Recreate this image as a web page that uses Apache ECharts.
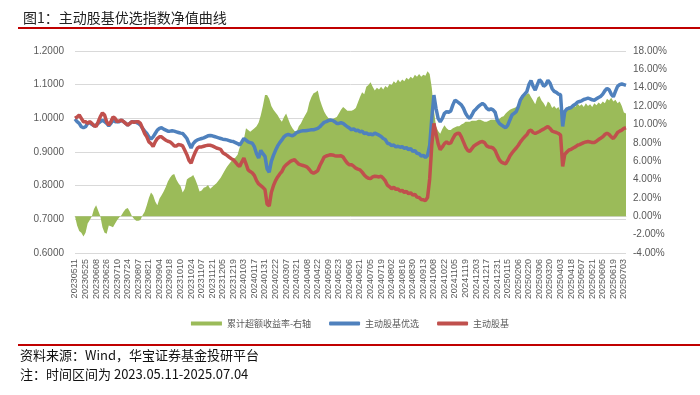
<!DOCTYPE html>
<html>
<head>
<meta charset="utf-8">
<script src="https://cdn.jsdelivr.net/npm/echarts@6/dist/echarts.min.js"></script>
<style>
html,body{margin:0;padding:0;background:#fff;}
#c{width:700px;height:395px;}
</style>
</head>
<body>
<div id="c"></div>
<script>
// Tick labels (every 10 trading days)
var tickLabels = ['20230511','20230525','20230608','20230626','20230710','20230724','20230807','20230821','20230904','20230918','20231010','20231024','20231107','20231121','20231205','20231219','20240103','20240117','20240131','20240222','20240307','20240321','20240408','20240422','20240509','20240523','20240606','20240621','20240705','20240719','20240802','20240816','20240830','20240913','20241008','20241022','20241105','20241119','20241203','20241217','20241231','20250115','20250206','20250220','20250306','20250320','20250403','20250418','20250507','20250521','20250605','20250619','20250703'];
var lastDate = '20250704';

// 主动股基优选 (left axis)
var bestValues = [
0.998,0.99,0.985,0.975,0.972, 0.975,0.985,0.988,0.982,0.978, 0.98,0.985,0.99,0.995,0.99, 0.985,0.978,0.985,0.995,0.99,
0.99,0.99,0.995,0.99,0.985, 0.98,0.985,0.99,0.99,0.988, 0.985,0.98,0.97,0.962,0.955, 0.945,0.938,0.945,0.955,0.965,
0.97,0.972,0.968,0.965,0.962, 0.962,0.963,0.962,0.96,0.958, 0.956,0.955,0.948,0.94,0.925, 0.912,0.925,0.932,0.936,0.938,
0.94,0.942,0.945,0.948,0.949, 0.948,0.946,0.944,0.942,0.94, 0.938,0.937,0.936,0.934,0.932, 0.931,0.928,0.925,0.921,0.93,
0.94,0.935,0.93,0.928,0.926, 0.915,0.895,0.882,0.905,0.895, 0.887,0.85,0.84,0.872,0.89, 0.905,0.918,0.928,0.936,0.945,
0.95,0.952,0.95,0.948,0.952, 0.958,0.96,0.962,0.963,0.963, 0.964,0.965,0.966,0.966,0.968, 0.97,0.975,0.982,0.988,0.99,
0.993,0.995,0.994,0.99,0.985, 0.985,0.987,0.985,0.98,0.975, 0.971,0.966,0.969,0.963,0.965, 0.96,0.962,0.955,0.957,0.952,
0.954,0.951,0.956,0.953,0.95, 0.946,0.94,0.937,0.926,0.924, 0.919,0.921,0.915,0.917,0.914, 0.916,0.911,0.913,0.907,0.91,
0.902,0.904,0.896,0.895,0.888, 0.89,0.884,0.89,0.92,1.0, 1.069,1.03,1.0,0.99,1.0, 1.015,1.02,1.018,1.022,1.04,
1.054,1.05,1.045,1.04,1.03, 1.015,1.005,1.0,1.01,1.022, 1.028,1.035,1.04,1.044,1.04, 1.03,1.025,1.028,1.025,1.018,
0.995,0.985,0.98,0.976,0.972, 0.98,0.995,1.01,1.015,1.02, 1.035,1.055,1.065,1.072,1.079, 1.1,1.112,1.095,1.084,1.1,
1.115,1.108,1.095,1.1,1.113, 1.105,1.088,1.08,1.077,1.072, 1.07,0.976,1.02,1.028,1.03, 1.032,1.038,1.042,1.048,1.05,
1.052,1.056,1.058,1.06,1.058, 1.055,1.054,1.058,1.062,1.065, 1.072,1.082,1.089,1.085,1.072, 1.064,1.08,1.095,1.1,1.102,
1.1,1.098
];

// 主动股基 (left axis)
var baseValues = [
1.0,1.004,1.01,1.0,0.99, 0.99,0.985,0.99,0.985,0.978, 0.976,0.99,1.005,1.016,1.01, 0.99,0.98,0.99,1.004,1.0,
0.99,0.992,0.995,0.99,0.985, 0.98,0.985,0.99,0.988,0.99, 0.99,0.985,0.97,0.955,0.945, 0.93,0.925,0.916,0.93,0.94,
0.945,0.945,0.94,0.935,0.932, 0.93,0.925,0.918,0.918,0.922, 0.921,0.918,0.905,0.892,0.875, 0.867,0.885,0.9,0.912,0.915,
0.915,0.917,0.919,0.92,0.92, 0.918,0.915,0.912,0.91,0.908, 0.898,0.894,0.89,0.885,0.88, 0.877,0.87,0.862,0.857,0.87,
0.882,0.865,0.847,0.842,0.838, 0.83,0.815,0.805,0.8,0.795, 0.788,0.745,0.74,0.78,0.8, 0.815,0.826,0.835,0.842,0.855,
0.862,0.867,0.872,0.875,0.877, 0.87,0.864,0.862,0.86,0.858, 0.855,0.848,0.84,0.837,0.84, 0.845,0.86,0.872,0.885,0.888,
0.89,0.892,0.891,0.889,0.888, 0.888,0.889,0.885,0.875,0.867, 0.862,0.862,0.858,0.852,0.849, 0.847,0.84,0.832,0.826,0.822,
0.821,0.826,0.828,0.827,0.826, 0.828,0.822,0.814,0.801,0.797, 0.791,0.795,0.789,0.79,0.784, 0.786,0.78,0.783,0.776,0.779,
0.772,0.774,0.766,0.765,0.759, 0.758,0.756,0.765,0.82,0.92, 0.985,0.955,0.925,0.907,0.915, 0.925,0.93,0.925,0.927,0.94,
0.951,0.955,0.956,0.945,0.93, 0.915,0.905,0.902,0.91,0.918, 0.922,0.926,0.93,0.931,0.928, 0.918,0.915,0.914,0.912,0.905,
0.89,0.877,0.87,0.867,0.865, 0.875,0.888,0.897,0.905,0.912, 0.92,0.93,0.938,0.945,0.951, 0.962,0.965,0.958,0.955,0.958,
0.961,0.965,0.968,0.972,0.976, 0.97,0.962,0.96,0.958,0.955, 0.95,0.857,0.893,0.9,0.906, 0.908,0.912,0.915,0.92,0.922,
0.925,0.928,0.93,0.931,0.93, 0.928,0.928,0.932,0.937,0.941, 0.945,0.952,0.956,0.952,0.945, 0.94,0.948,0.958,0.962,0.965,
0.97,0.972
];

// 累计超额收益率 (%), right axis
var excessValues = [
0,-1.0,-1.6,-1.8,-2.2, -1.8,-0.8,-0.4,0.0,0.8, 1.2,0.6,0.0,-1.2,-1.8, -1.9,-1.0,-1.1,-1.2,-0.8,
-0.4,-0.1,0.1,0.5,0.8, 0.9,0.5,0.0,-0.3,-0.5, -0.5,-0.4,0.1,0.5,1.2, 2.0,2.6,2.3,1.6,1.2,
1.9,2.3,2.7,3.2,3.8, 4.2,4.5,4.6,4.0,3.6, 3.3,2.6,3.0,4.0,4.2, 4.3,4.5,4.0,3.4,2.7,
2.8,3.1,3.2,3.4,3.0, 3.2,3.4,3.6,3.9,4.2, 4.6,5.0,5.4,5.7,6.0, 6.2,6.4,6.7,7.5,8.0,
8.4,9.6,9.4,9.2,9.4, 9.6,9.8,10.2,11.0,12.0, 13.2,13.2,12.8,12.0,11.6, 11.3,11.0,10.6,10.3,10.8,
11.2,10.6,10.0,9.6,9.3, 9.2,9.8,10.1,10.6,11.0, 11.4,12.4,13.0,13.4,13.5, 13.7,12.7,12.0,11.4,11.0,
10.7,10.6,10.6,10.7,10.8, 11.2,11.6,11.9,11.7,11.5, 11.5,11.5,11.6,11.8,12.4, 13.0,13.5,13.3,14.1,14.3,
14.6,14.1,13.7,14.0,13.8, 14.1,13.8,14.2,14.0,14.4, 14.3,14.7,14.5,14.9,14.6, 14.9,14.7,15.1,14.9,15.2,
15.0,15.4,15.2,15.5,15.2, 15.4,15.3,15.8,15.5,14.0, 11.6,9.8,9.3,9.0,9.5, 9.9,9.6,9.4,9.4,9.6,
9.7,9.8,9.8,10.0,10.1, 10.3,10.3,10.3,10.4,10.4, 10.4,10.5,10.5,10.4,10.3, 10.3,10.4,10.5,10.5,10.5,
10.5,10.6,10.8,10.9,11.2, 11.4,11.6,11.7,11.8,11.9, 12.2,12.6,12.9,13.1,13.3, 13.4,13.0,12.6,12.2,12.9,
13.1,12.6,12.3,11.9,12.5, 12.3,11.8,12.0,11.7,11.9, 11.4,11.4,11.6,11.8,12.0, 11.9,12.2,11.9,12.3,12.0,
12.2,11.9,12.3,12.0,12.2, 11.9,12.3,12.1,12.4,12.2, 12.5,12.3,12.8,12.6,12.9, 12.5,12.7,12.3,12.5,12.0,
11.3,11.2
];

// Category axis: one point every 2 trading days, tick label every 5 points
var categories = [];
for (var i = 0; i < bestValues.length; i++) {
  if (i % 5 === 0 && tickLabels[i / 5]) categories.push(tickLabels[i / 5]);
  else if (i === bestValues.length - 1) categories.push(lastDate);
  else categories.push('');
}

var latin = 'Liberation Sans, Arial, sans-serif';
var cjk = '"Noto Sans CJK SC", sans-serif';

var chart = echarts.init(document.getElementById('c'), null, {renderer: 'canvas'});
chart.setOption({
  animation: false,
  backgroundColor: '#fff',
  title: {
    text: '图1：主动股基优选指数净值曲线',
    left: 18, top: 6,
    textStyle: {fontFamily: cjk, fontSize: 14, fontWeight: 'normal', color: '#222'}
  },
  graphic: [
    {type: 'rect', shape: {x: 18, y: 27, width: 682, height: 2}, style: {fill: '#C00000'}},
    {type: 'rect', shape: {x: 18, y: 344, width: 682, height: 2}, style: {fill: '#C00000'}},
    {type: 'text', left: 20, top: 349, style: {text: '资料来源：Wind，华宝证券基金投研平台', font: '13px "Noto Sans CJK SC", sans-serif', fill: '#111'}},
    {type: 'text', left: 20, top: 368, style: {text: '注：时间区间为 2023.05.11-2025.07.04', font: '13px "Noto Sans CJK SC", sans-serif', fill: '#111'}}
  ],
  legend: {
    top: 314, left: 'center',
    itemWidth: 31, itemHeight: 4, itemGap: 18,
    textStyle: {fontFamily: cjk, fontSize: 9, color: '#595959'},
    data: [
      {name: '累计超额收益率-右轴', icon: 'rect'},
      {name: '主动股基优选', icon: 'roundRect'},
      {name: '主动股基', icon: 'roundRect'}
    ]
  },
  grid: {left: 75, right: 74, top: 51, bottom: 142},
  xAxis: {
    type: 'category', data: categories, boundaryGap: false,
    axisLine: {lineStyle: {color: '#D9D9D9'}},
    axisTick: {show: false},
    axisLabel: {
      rotate: 90, fontSize: 9, color: '#595959', fontFamily: latin, margin: 6,
      interval: function (idx) { return idx % 5 === 0 && idx <= 260; }
    },
    splitLine: {show: false}
  },
  yAxis: [
    {
      type: 'value', min: 0.6, max: 1.2, interval: 0.1,
      axisLine: {show: false}, axisTick: {show: false},
      axisLabel: {fontSize: 10, color: '#595959', fontFamily: latin, margin: 11,
        formatter: function (v) { return v.toFixed(4); }},
      splitLine: {lineStyle: {color: '#D9D9D9', width: 1}}
    },
    {
      type: 'value', min: -4, max: 18, interval: 2,
      axisLine: {show: false}, axisTick: {show: false},
      axisLabel: {fontSize: 10, color: '#595959', fontFamily: latin, margin: 7,
        formatter: function (v) { return v.toFixed(2) + '%'; }},
      splitLine: {show: false}
    }
  ],
  series: [
    {
      name: '累计超额收益率-右轴', type: 'line', yAxisIndex: 1, data: excessValues,
      showSymbol: false, symbol: 'none', lineStyle: {width: 0},
      itemStyle: {color: '#9BBB59'},
      areaStyle: {color: '#9BBB59', opacity: 1, origin: 'auto'}
    },
    {
      name: '主动股基优选', type: 'line', yAxisIndex: 0, data: bestValues,
      showSymbol: false, symbol: 'none',
      lineStyle: {width: 3.5, color: '#4F81BD'}, itemStyle: {color: '#4F81BD'}
    },
    {
      name: '主动股基', type: 'line', yAxisIndex: 0, data: baseValues,
      showSymbol: false, symbol: 'none',
      lineStyle: {width: 3.5, color: '#C0504D'}, itemStyle: {color: '#C0504D'}
    }
  ]
});
</script>
</body>
</html>
